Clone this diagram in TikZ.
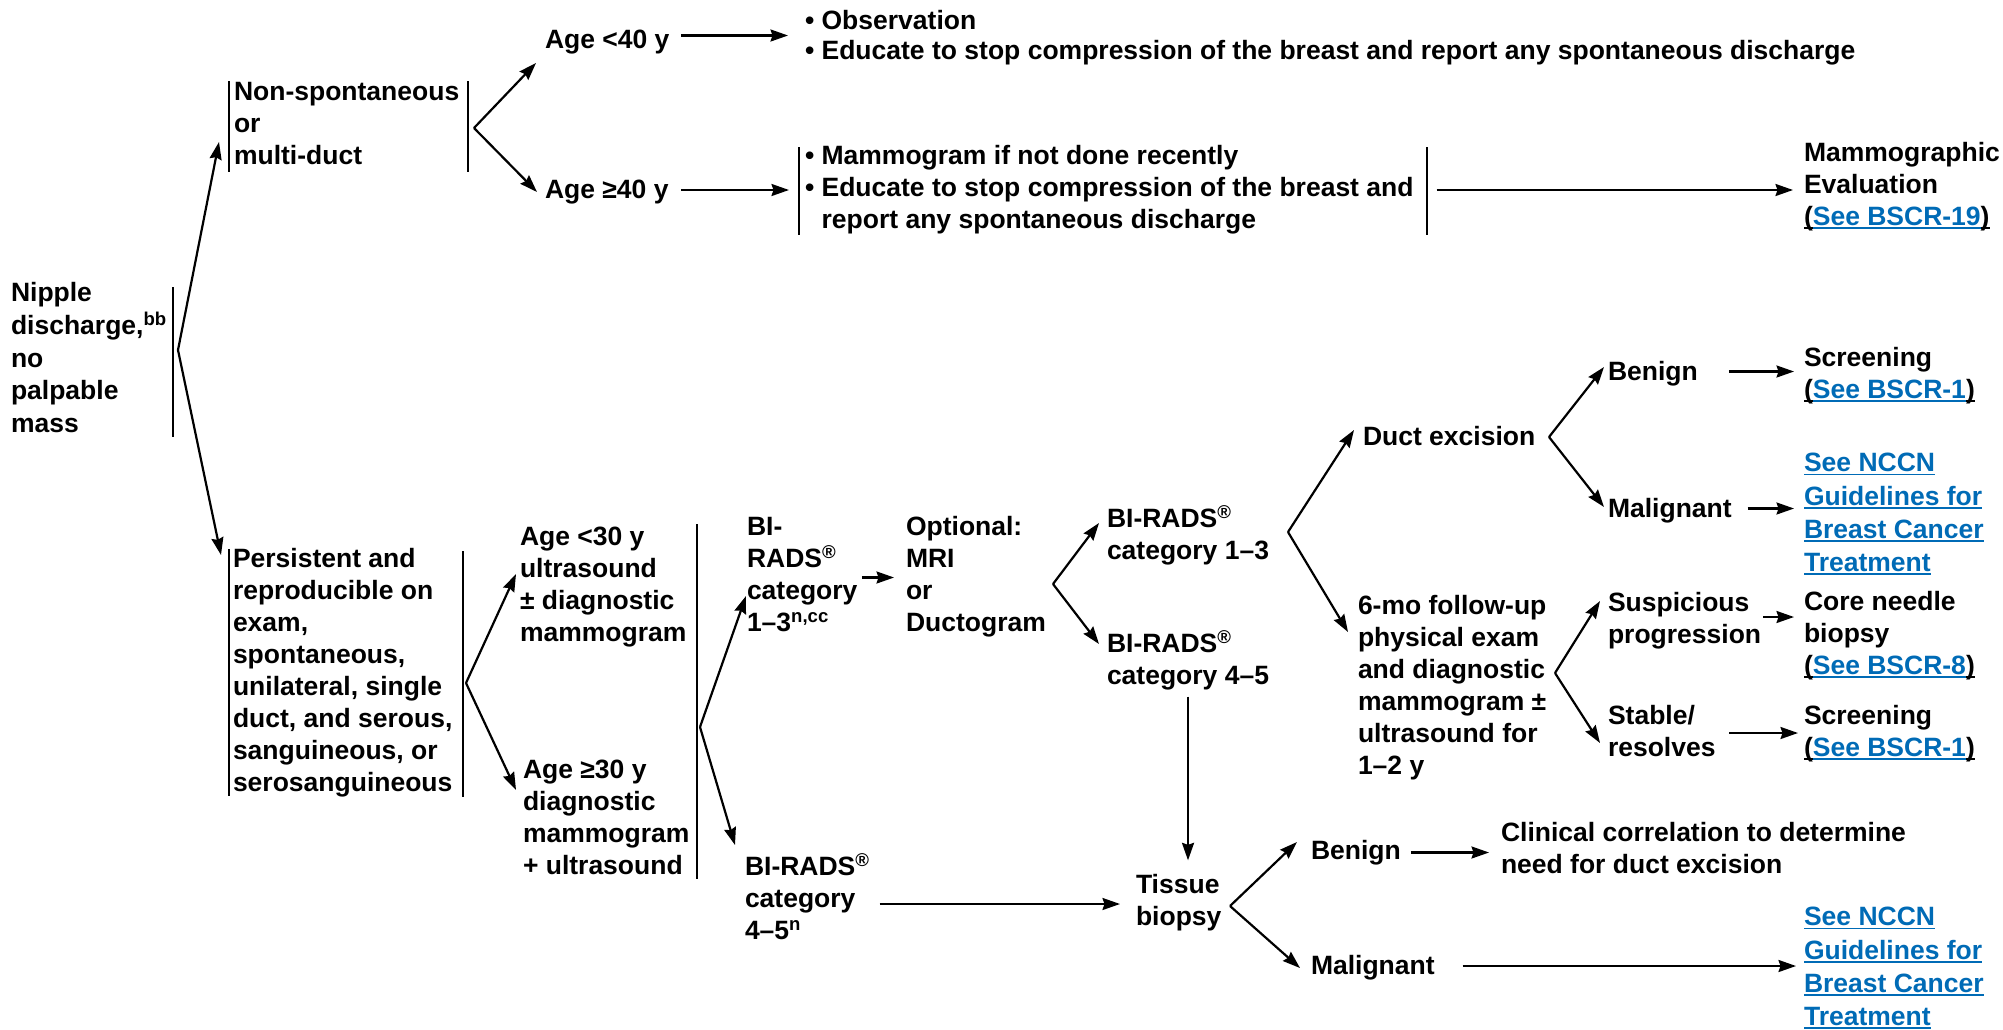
\documentclass[tikz,border=0pt]{standalone}
\usepackage{fontspec}
\setmainfont{Liberation Sans}
\usetikzlibrary{arrows.meta}
\definecolor{linkblue}{RGB}{0,107,182}
\newsavebox{\ulbox}
\newcommand{\myul}[1]{\sbox{\ulbox}{#1}\rlap{\rule[-3.5pt]{\wd\ulbox}{1.7pt}}\usebox{\ulbox}}
\newcommand{\lk}[1]{\textcolor{linkblue}{\myul{#1}}}
\newcommand{\mylp}{\myul{(}}
\newcommand{\myrp}{\myul{)}}
\newcommand{\mystrut}{\rule[-7.1pt]{0pt}{32pt}}
\tikzset{
  txt/.style={anchor=west, inner sep=0pt, outer sep=0pt, align=left,
    font=\fontsize{26.5}{32}\selectfont\bfseries,
    execute at begin node=\mystrut, execute at end node=\mystrut},
  wide/.style={font=\fontsize{26.5}{33.3}\selectfont\bfseries},
  arr/.style={line width=2.2pt, -{Stealth[length=17.5pt,width=12pt,inset=2pt]}},
  vbar/.style={line width=2.5pt}
}
\begin{document}
\begin{tikzpicture}[x=1pt,y=-1pt]
\fill[white] (0,0) rectangle (2003,1029);
\useasboundingbox (0,0) rectangle (2003,1029);

% nodes
\node[txt, font=\fontsize{26.5}{32.7}\selectfont\bfseries] (nip) at (11,361) {Nipple\\discharge,\textsuperscript{bb}\\no\\palpable\\mass};
\node[txt] (ns) at (234,126.5) {Non-spontaneous\\or\\multi-duct};
\node[txt] (a40) at (545,40) {Age <40 y};
\node[txt] (b40) at (545,190) {Age ≥40 y};
\node[txt, font=\fontsize{26.5}{30}\selectfont\bfseries] (obs) at (805,38.5) {• Observation\\• Educate to stop compression of the breast and report any spontaneous discharge};
\node[txt] (mam) at (805,190) {• Mammogram if not done recently\\• Educate to stop compression of the breast and\\\hphantom{• }report any spontaneous discharge};
\node[txt] (mev) at (1804,187.5) {Mammographic\\Evaluation\\\mylp\lk{See BSCR-19}\myrp};
\node[txt] (pers) at (233,673.5) {Persistent and\\reproducible on\\exam,\\spontaneous,\\unilateral, single\\duct, and serous,\\sanguineous, or\\serosanguineous};
\node[txt] (a30) at (520,588) {Age <30 y\\ultrasound\\± diagnostic\\mammogram};
\node[txt] (b30) at (523,821) {Age ≥30 y\\diagnostic\\mammogram\\+ ultrasound};
\node[txt] (bi13) at (747,577.5) {BI-\\RADS\textsuperscript{®}\\category\\1–3\textsuperscript{n,cc}};
\node[txt] (opt) at (906,577.5) {Optional:\\MRI\\or\\Ductogram};
\node[txt] (bi13r) at (1107,536.5) {BI-RADS\textsuperscript{®}\\category 1–3};
\node[txt] (bi45r) at (1107,661) {BI-RADS\textsuperscript{®}\\category 4–5};
\node[txt] (bi45) at (745,900) {BI-RADS\textsuperscript{®}\\category\\4–5\textsuperscript{n}};
\node[txt] (tis) at (1136,903.5) {Tissue\\biopsy};
\node[txt] (ben2) at (1311,851) {Benign};
\node[txt] (mal2) at (1311,966) {Malignant};
\node[txt] (clin) at (1501,851) {Clinical correlation to determine\\need for duct excision};
\node[txt, wide] (nccn2) at (1804,970) {\lk{See NCCN}\\\lk{Guidelines for}\\\lk{Breast Cancer}\\\lk{Treatment}};
\node[txt] (duct) at (1363,437) {Duct excision};
\node[txt] (six) at (1358,688.5) {6-mo follow-up\\physical exam\\and diagnostic\\mammogram ±\\ultrasound for\\1–2 y};
\node[txt] (ben1) at (1608,372) {Benign};
\node[txt] (mal1) at (1608,509) {Malignant};
\node[txt] (scr1) at (1804,376) {Screening\\\mylp\lk{See BSCR-1}\myrp};
\node[txt, wide] (nccn1) at (1804,516) {\lk{See NCCN}\\\lk{Guidelines for}\\\lk{Breast Cancer}\\\lk{Treatment}};
\node[txt] (susp) at (1608,621) {Suspicious\\progression};
\node[txt] (stab) at (1608,734.5) {Stable/\\resolves};
\node[txt] (core) at (1804,636) {Core needle\\biopsy\\\mylp\lk{See BSCR-8}\myrp};
\node[txt] (scr2) at (1804,734.5) {Screening\\\mylp\lk{See BSCR-1}\myrp};

% bars
\draw[vbar] (173,287) -- (173,437);
\draw[vbar] (229,81) -- (229,172);
\draw[vbar] (468,81) -- (468,172);
\draw[vbar] (799,147) -- (799,235);
\draw[vbar] (1427,147) -- (1427,235);
\draw[vbar] (229,549) -- (229,796);
\draw[vbar] (463,551) -- (463,797);
\draw[vbar] (697,524) -- (697,879);

% branch points
\coordinate (A0) at (178,350);
\coordinate (A1) at (474,128);
\coordinate (A2) at (466,683);
\coordinate (A3) at (700,727);
\coordinate (A4) at (1053,584);
\coordinate (A5) at (1288,532);
\coordinate (A6) at (1230,906);
\coordinate (A7) at (1549,437);
\coordinate (A8) at (1555,673);

% branches
\draw[arr] (A0) -- ([shift={(-15,15.5)}]ns.west);
\draw[arr] (A0) -- ([shift={(-12,-118.5)}]pers.west);
\draw[arr] (A1) -- ([shift={(-9,23)}]a40.west);
\draw[arr] (A1) -- ([shift={(-8,2)}]b40.west);
\draw[arr] (A2) -- ([shift={(-4,-14)}]a30.west);
\draw[arr] (A2) -- ([shift={(-7,-31)}]b30.west);
\draw[arr] (A3) -- ([shift={(-1,18.5)}]bi13.west);
\draw[arr] (A3) -- ([shift={(-10,-55)}]bi45.west);
\draw[arr] (A4) -- ([shift={(-8,-13.5)}]bi13r.west);
\draw[arr] (A4) -- ([shift={(-8,-17)}]bi45r.west);
\draw[arr] (A5) -- ([shift={(-9,-7)}]duct.west);
\draw[arr] (A5) -- ([shift={(-10,-56.5)}]six.west);
\draw[arr] (A6) -- ([shift={(-14,-9)}]ben2.west);
\draw[arr] (A6) -- ([shift={(-11,2)}]mal2.west);
\draw[arr] (A7) -- ([shift={(-4,-5)}]ben1.west);
\draw[arr] (A7) -- ([shift={(-4,-2)}]mal1.west);
\draw[arr] (A8) -- ([shift={(-8,-20)}]susp.west);
\draw[arr] (A8) -- ([shift={(-8,8.5)}]stab.west);

% straight arrows
\draw[arr] ([shift={(11.5,-4.5)}]a40.east) coordinate (s1) -- ([xshift=-17pt]obs.west |- s1);
\draw[arr] ([shift={(12.5,0)}]b40.east) coordinate (s2) -- ([xshift=-16pt]mam.west |- s2);
\draw[arr] ([shift={(23,0)}]mam.east) coordinate (s3) -- ([xshift=-11pt]mev.west |- s3);
\draw[arr] ([shift={(4.5,0)}]bi13.east) coordinate (s4) -- ([xshift=-12pt]opt.west |- s4);
\coordinate (s5) at ([shift={(0,5)}]bi45r.south);
\coordinate (tn) at ([shift={(0,-14)}]tis.north);
\draw[arr] (s5) -- (tn -| s5);
\draw[arr] ([shift={(10,4)}]bi45.east) coordinate (s6) -- ([xshift=-16pt]tis.west |- s6);
\draw[arr] ([shift={(10,1.5)}]ben2.east) coordinate (s7) -- ([xshift=-12pt]clin.west |- s7);
\draw[arr] ([shift={(28,0)}]mal2.east) coordinate (s8) -- ([xshift=-8pt]nccn2.west |- s8);
\draw[arr] ([shift={(31,-0.5)}]ben1.east) coordinate (s9) -- ([xshift=-10pt]scr1.west |- s9);
\draw[arr] ([shift={(16,-0.5)}]mal1.east) coordinate (s10) -- ([xshift=-10pt]nccn1.west |- s10);
\draw[arr] ([shift={(2,-4)}]susp.east) coordinate (s11) -- ([xshift=-10pt]core.west |- s11);
\draw[arr] ([shift={(13.5,-1.5)}]stab.east) coordinate (s12) -- ([xshift=-6pt]scr2.west |- s12);
\end{tikzpicture}
\end{document}
